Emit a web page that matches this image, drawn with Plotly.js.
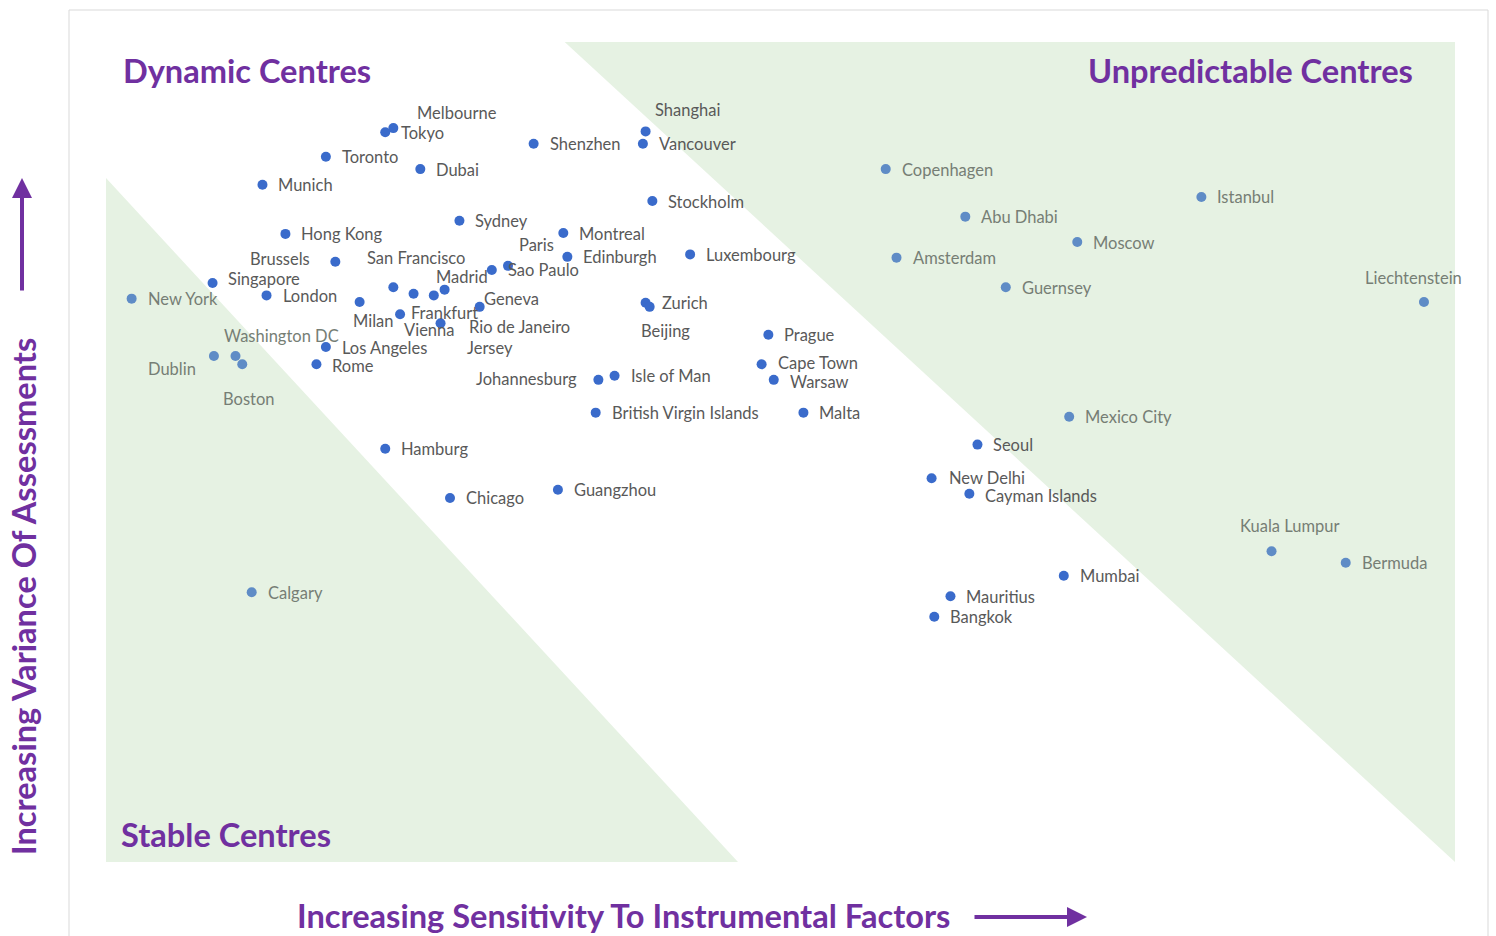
<!DOCTYPE html>
<html>
<head>
<meta charset="utf-8">
<script src="https://cdn.plot.ly/plotly-3.0.1.min.js"></script>
<style>
  html, body { margin: 0; padding: 0; background: #FFFFFF; }
  #chart { width: 1496px; height: 936px; }
</style>
</head>
<body>
<div id="chart"></div>
<script>
// Financial centres matrix: sensitivity to instrumental factors vs variance of assessments

const centres = [
  'Melbourne', 'Tokyo', 'Toronto', 'Dubai', 'Munich', 'Shenzhen', 'Shanghai', 'Vancouver',
  'Stockholm', 'Sydney', 'Hong Kong', 'Montreal', 'Edinburgh', 'Paris', 'Sao Paulo',
  'Luxembourg', 'Brussels', 'Singapore', 'London', 'New York', 'San Francisco', 'Jersey',
  'Rio de Janeiro', 'Madrid', 'Milan', 'Frankfurt', 'Vienna', 'Geneva', 'Zurich', 'Beijing',
  'Prague', 'Cape Town', 'Warsaw', 'Washington DC', 'Dublin', 'Boston', 'Los Angeles', 'Rome',
  'Johannesburg', 'Isle of Man', 'British Virgin Islands', 'Malta', 'Hamburg', 'Chicago',
  'Guangzhou', 'Calgary', 'Copenhagen', 'Abu Dhabi', 'Amsterdam', 'Guernsey', 'Moscow',
  'Istanbul', 'Liechtenstein', 'Mexico City', 'Seoul', 'New Delhi', 'Cayman Islands',
  'Kuala Lumpur', 'Bermuda', 'Mumbai', 'Mauritius', 'Bangkok',
];

// Increasing sensitivity to instrumental factors (0-100)
const sensitivity = [
  21.3, 20.7, 16.3, 23.3, 11.6, 31.7, 40.0, 39.8,
  40.5, 26.2, 13.3, 33.9, 34.2, 29.8, 28.6,
  43.3, 17.0, 7.9, 11.9, 1.9, 21.3, 22.8,
  24.3, 25.1, 18.8, 21.8, 24.8, 27.7, 40.0, 40.3,
  49.1, 48.6, 49.5, 9.6, 8.0, 10.1, 16.3, 15.6,
  36.5, 37.7, 36.3, 51.7, 20.7, 25.5,
  33.5, 10.8, 57.8, 63.7, 58.6, 66.7, 72.0,
  81.2, 97.7, 71.4, 64.6, 61.2, 64.0,
  86.4, 91.9, 71.0, 62.6, 61.4,
];

// Increasing variance of assessments (0-100)
const variance = [
  89.5, 89.0, 86.0, 84.5, 82.6, 87.6, 89.1, 87.6,
  80.6, 78.2, 76.6, 76.7, 73.8, 72.7, 72.2,
  74.1, 73.2, 70.6, 69.1, 68.7, 70.1, 69.3,
  69.1, 69.8, 68.3, 66.8, 65.7, 67.7, 68.2, 67.7,
  64.3, 60.7, 58.8, 61.7, 61.7, 60.7, 62.8, 60.7,
  58.8, 59.3, 54.8, 54.8, 50.4, 44.4,
  45.4, 32.9, 84.5, 78.7, 73.7, 70.1, 75.6,
  81.1, 68.3, 54.3, 50.9, 46.8, 44.9,
  37.9, 36.5, 34.9, 32.4, 29.9,
];

// Label placement tweaks (pixel offset from the point, anchor); others sit to the right
const labelNudge = {
  'Melbourne': [22, -17, 'left'],
  'Shanghai': [7, -23, 'left'],
  'Paris': [9, -22, 'left'],
  'Brussels': [-23, -4, 'right'],
  'Singapore': [13, -6, 'left'],
  'San Francisco': [-28, -31, 'left'],
  'Madrid': [45, -14, 'right'],
  'Jersey': [51, 53, 'left'],
  'Rio de Janeiro': [33, 30, 'left'],
  'Milan': [-9, 18, 'left'],
  'Frankfurt': [9, -3, 'left'],
  'Vienna': [-39, 5, 'left'],
  'Geneva': [2, -9, 'left'],
  'Beijing': [-11, 23, 'left'],
  'Washington DC': [-14, -22, 'left'],
  'Dublin': [-16, 11, 'right'],
  'Boston': [-21, 33, 'left'],
  'Johannesburg': [-19, -2, 'right'],
  'Liechtenstein': [-10, -25, 'center'],
  'Kuala Lumpur': [18, -27, 'center'],
  'Cape Town': [14, -3, 'left'],
  'Warsaw': [14, 1, 'left'],
  'New Delhi': [15, -2, 'left'],
  'Cayman Islands': [14, 1, 'left'],
  'Los Angeles': [14, -1, 'left'],
  'Rome': [14, 0, 'left'],
};
const LABEL_DY = 1.5;

const PURPLE = '#7030A0';
const GREEN = 'rgb(230,242,227)';
const FONT = 'Lato, "Open Sans", sans-serif';
const TITLE_SIZE = 32.6;

// plot area in page pixels
const W = 1496, H = 936;
const M = { l: 106, r: 41, t: 42, b: 74 };
const pw = W - M.l - M.r, ph = H - M.t - M.b;
const px = x => (x - M.l) / pw;
const py = y => (H - M.b - y) / ph;

// green zones (data units)
const leftTop = 83.4, leftRight = 46.85, rightStart = 34.0;
function inGreen(x, y) {
  if (y <= leftTop * (1 - x / leftRight)) return true;
  return y >= 100 - (x - rightStart) * 100 / (100 - rightStart);
}

const shaded = centres.map((c, i) => inGreen(sensitivity[i], variance[i]));

const data = [{
  x: sensitivity,
  y: variance,
  text: centres,
  mode: 'markers',
  type: 'scatter',
  marker: { size: 10, color: shaded.map(g => g ? '#5F8CC6' : '#3A6BCB') },
  hoverinfo: 'text',
  showlegend: false,
}];

const annotations = centres.map((c, i) => {
  const n = labelNudge[c] || [14, -1, 'left'];
  return {
    x: sensitivity[i], y: variance[i], xref: 'x', yref: 'y',
    text: c, showarrow: false,
    xanchor: n[2], yanchor: 'middle',
    xshift: n[0], yshift: -(n[1] + LABEL_DY),
    font: { family: FONT, size: 16.5, color: shaded[i] ? '#767E75' : '#595959' },
  };
});

// quadrant names
const quad = (text, x, y, anchor) => ({
  x: px(x), y: py(y), xref: 'paper', yref: 'paper', text: text, showarrow: false,
  xanchor: anchor, yanchor: 'middle',
  font: { family: FONT, size: TITLE_SIZE, color: PURPLE, weight: 700 },
});
annotations.push(quad('Dynamic Centres', 121, 70, 'left'));
annotations.push(quad('Unpredictable Centres', 1415, 70, 'right'));
annotations.push(quad('Stable Centres', 119, 834, 'left'));

// axis titles with arrows
annotations.push({
  x: px(623), y: py(915), xref: 'paper', yref: 'paper', showarrow: false,
  xanchor: 'center', yanchor: 'middle',
  text: 'Increasing Sensitivity To Instrumental Factors',
  font: { family: FONT, size: TITLE_SIZE, color: PURPLE, weight: 700 },
});
annotations.push({
  x: px(23), y: py(597), xref: 'paper', yref: 'paper', showarrow: false, textangle: -90,
  xanchor: 'center', yanchor: 'middle',
  text: 'Increasing Variance Of Assessments',
  font: { family: FONT, size: TITLE_SIZE, color: PURPLE, weight: 700 },
});
annotations.push({
  x: px(1087), y: py(917), xref: 'paper', yref: 'paper', text: '',
  showarrow: true, ax: -114, ay: 0, arrowhead: 2, arrowsize: 1, arrowwidth: 4, arrowcolor: PURPLE,
});
annotations.push({
  x: px(22), y: py(178), xref: 'paper', yref: 'paper', text: '',
  showarrow: true, ax: 0, ay: 114, arrowhead: 2, arrowsize: 1, arrowwidth: 4, arrowcolor: PURPLE,
});

const shapes = [
  { type: 'path', xref: 'x', yref: 'y', layer: 'below', line: { width: 0 }, fillcolor: GREEN,
    path: `M 0 ${leftTop} L 0 0 L ${leftRight} 0 Z` },
  { type: 'path', xref: 'x', yref: 'y', layer: 'below', line: { width: 0 }, fillcolor: GREEN,
    path: `M ${rightStart} 100 L 100 100 L 100 0 Z` },
  { type: 'rect', xref: 'paper', yref: 'paper', layer: 'below',
    x0: px(69), x1: px(1488), y0: py(940), y1: py(10),
    line: { color: '#D9D9D9', width: 1 }, fillcolor: 'rgba(0,0,0,0)' },
];

const layout = {
  width: W, height: H,
  margin: M,
  paper_bgcolor: '#FFFFFF',
  plot_bgcolor: 'rgba(0,0,0,0)',
  xaxis: { range: [0, 100], visible: false, fixedrange: true },
  yaxis: { range: [0, 100], visible: false, fixedrange: true },
  showlegend: false,
  shapes,
  annotations,
};

Plotly.newPlot('chart', data, layout, { displayModeBar: false, staticPlot: true });
</script>
</body>
</html>
